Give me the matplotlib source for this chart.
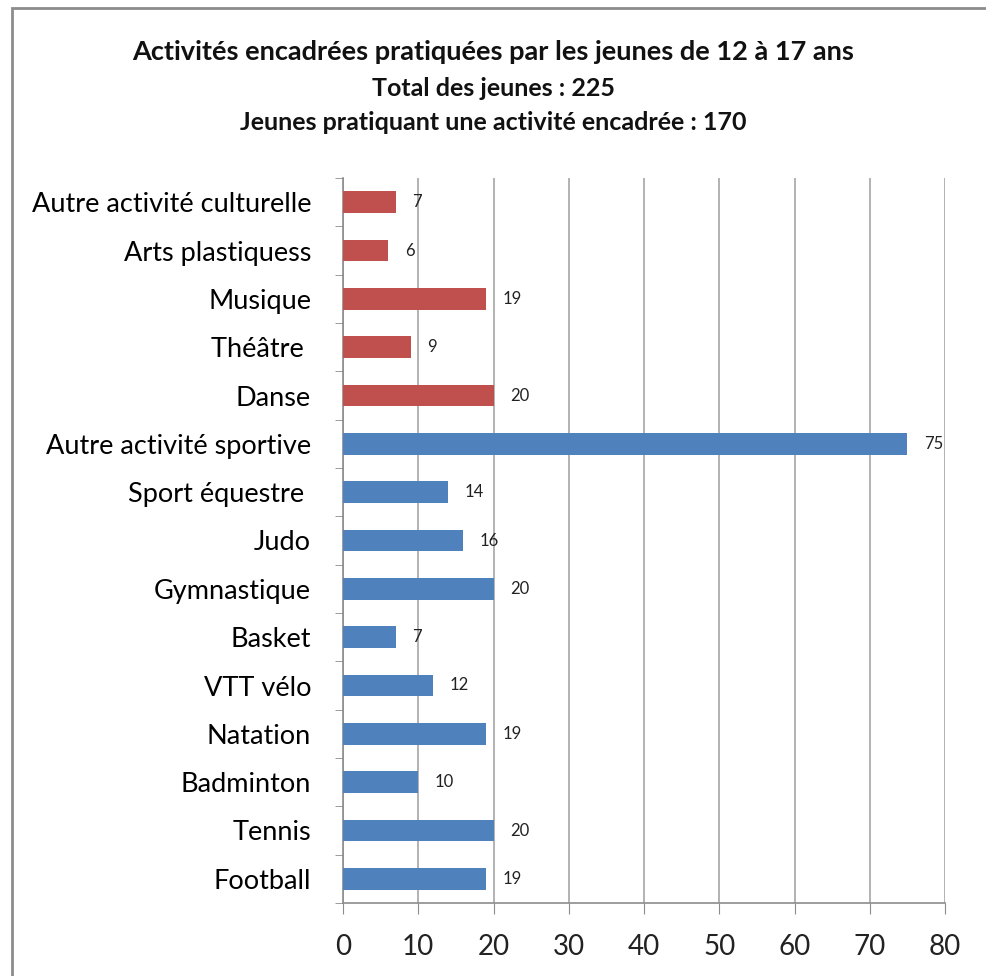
import matplotlib
matplotlib.use("Agg")
import matplotlib.pyplot as plt
from matplotlib.patches import Rectangle

plt.rcParams['font.family'] = ['Lato', 'DejaVu Sans']

categories = ["Football", "Tennis", "Badminton", "Natation", "VTT vélo", "Basket",
              "Gymnastique", "Judo", "Sport équestre ", "Autre activité sportive",
              "Danse", "Théâtre ", "Musique", "Arts plastiquess", "Autre activité culturelle"]
values = [19, 20, 10, 19, 12, 7, 20, 16, 14, 75, 20, 9, 19, 6, 7]
groups = ["sport"] * 10 + ["culture"] * 5
group_colors = {"sport": "#4F81BD", "culture": "#C0504D"}

W, H = 986, 976
fig = plt.figure(figsize=(W / 100, H / 100), dpi=100)
fig.patch.set_facecolor("white")

# chart border
fig.add_artist(Rectangle((12 / W, -0.1), 1.2, (H - 8) / H + 0.1, transform=fig.transFigure,
                         fill=False, edgecolor="#8c8c8c", linewidth=2))

left, right, top, bottom = 343, 945, 178, 903
ax = fig.add_axes([left / W, 1 - bottom / H, (right - left) / W, (bottom - top) / H])

ys = list(range(len(categories)))
colors = [group_colors[g] for g in groups]
ax.barh(ys, values, height=0.45, color=colors, zorder=3)

for y, v in zip(ys, values):
    ax.annotate(str(v), (v, y), xytext=(12, 0), textcoords="offset points",
                va="center", ha="left", fontsize=12, color="#222222", zorder=4)

ax.set_xlim(0, 80)
ax.set_ylim(-0.5, len(categories) - 0.5)
ax.set_xticks(range(0, 81, 10))
ax.set_yticks(ys)
ax.set_yticklabels(categories, fontsize=19.5)
ax.set_yticks([i - 0.5 for i in range(len(categories) + 1)], minor=True)
ax.tick_params(axis="y", which="major", length=0, pad=23)
ax.tick_params(axis="y", which="minor", length=6, color="#8c8c8c", direction="out")
ax.tick_params(axis="x", which="major", length=8, color="#8c8c8c", direction="out",
               labelsize=20, pad=14)
for lbl in ax.get_xticklabels():
    lbl.set_color("#222222")

ax.grid(axis="x", color="#a6a6a6", linewidth=1.2, zorder=0)
ax.set_axisbelow(True)
for s in ["top", "right"]:
    ax.spines[s].set_visible(False)
for s in ["left", "bottom"]:
    ax.spines[s].set_color("#8c8c8c")
    ax.spines[s].set_linewidth(1.2)

fig.text(0.5, 1 - 52 / H, "Activités encadrées pratiquées par les jeunes de 12 à 17 ans",
         ha="center", va="center", fontsize=19.5, fontweight="bold", color="#111111")
fig.text(0.5, 1 - 88 / H, "Total des jeunes : 225",
         ha="center", va="center", fontsize=18, fontweight="bold", color="#111111")
fig.text(0.5, 1 - 123 / H, "Jeunes pratiquant une activité encadrée : 170",
         ha="center", va="center", fontsize=18, fontweight="bold", color="#111111")

fig.savefig("out.png", dpi=100)
